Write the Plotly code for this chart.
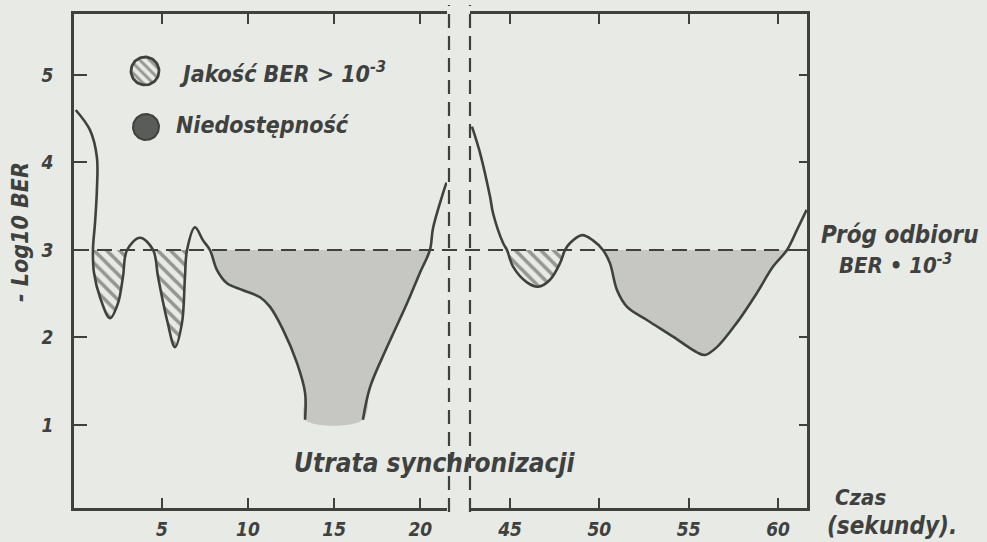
import numpy as np
import plotly.graph_objects as go

# -log10(BER) w funkcji czasu [s] – przed utratą synchronizacji (dwa odcinki krzywej)
t_before_a = [0.0, 0.83, 1.23, 1.23, 1.12, 1.0, 1.06, 1.41, 1.99, 2.45, 2.74, 2.98,
              3.73, 4.49, 4.78, 5.30, 5.76, 6.17, 6.34, 6.46, 6.92, 7.39, 7.79, 8.20,
              8.78, 9.71, 10.70, 11.28, 12.03, 12.84, 13.31, 13.31]
ber_before_a = [4.60, 4.37, 4.06, 3.69, 3.31, 3.0, 2.74, 2.46, 2.22, 2.39, 2.69, 3.0,
                3.14, 3.0, 2.69, 2.20, 1.89, 2.17, 2.69, 3.0, 3.26, 3.11, 3.0, 2.77,
                2.62, 2.54, 2.46, 2.35, 2.09, 1.71, 1.37, 1.06]
t_before_b = [16.67, 17.08, 18.07, 19.23, 19.98, 20.56, 20.74, 21.32, 21.52]
ber_before_b = [1.06, 1.43, 1.89, 2.39, 2.74, 3.0, 3.25, 3.65, 3.77]

# po odzyskaniu synchronizacji
t_after = [42.87, 43.32, 43.88, 44.05, 44.61, 44.83, 45.17, 45.95, 46.57, 47.24,
           47.80, 48.08, 48.36, 49.03, 49.64, 50.20, 50.59, 50.99, 51.55, 52.66,
           54.12, 55.46, 55.91, 56.58, 57.70, 58.82, 59.72, 60.50, 61.06, 61.60]
ber_after = [4.41, 4.11, 3.61, 3.42, 3.08, 3.0, 2.81, 2.63, 2.58, 2.66,
             2.85, 3.0, 3.08, 3.17, 3.11, 3.0, 2.85, 2.54, 2.35, 2.20,
             2.01, 1.83, 1.80, 1.89, 2.17, 2.51, 2.81, 3.0, 3.23, 3.46]

threshold = 3.0            # próg odbioru BER = 1e-3
unavail_min_seconds = 10   # okres poniżej progu >= 10 s -> niedostępność

x_ticks_left = [5, 10, 15, 20]
x_ticks_right = [45, 50, 55, 60]
y_ticks = [1, 2, 3, 4, 5]

INK = "#3f413f"
PAPER = "#e8eae6"
FONT = "DejaVu Sans Condensed, DejaVu Sans"

# geometry of the drawing in pixels
W, H = 987, 542
L, R, T, B = 74, 807, 14, 508
LEFT_END, RIGHT_START = 447, 470


def px(x, y):
    """pixel position -> paper coordinates"""
    return (x - L) / (R - L), (B - y) / (B - T)


def ink_font(size):
    return dict(family=FONT, size=size, color=INK, style="italic", weight="bold")


fig = go.Figure()

HATCH = dict(shape="\\", fgcolor=INK, bgcolor="rgba(0,0,0,0)", size=9, solidity=0.4)


def add_fills(t, v, xa, ya):
    crossings = [i for i, val in enumerate(v) if val == threshold]
    for i0, i1 in zip(crossings[:-1], crossings[1:]):
        seg_v = v[i0:i1 + 1]
        if max(seg_v) > threshold:
            continue
        seg_t = t[i0:i1 + 1]
        long_outage = (seg_t[-1] - seg_t[0]) >= unavail_min_seconds
        fig.add_trace(go.Scatter(x=[seg_t[0], seg_t[-1]], y=[threshold, threshold],
                                 mode="lines", line=dict(width=0), xaxis=xa, yaxis=ya,
                                 showlegend=False, hoverinfo="skip"))
        style = (dict(fillcolor="rgba(118,120,116,0.30)") if long_outage
                 else dict(fillcolor="rgba(0,0,0,0)", fillpattern=HATCH))
        fig.add_trace(go.Scatter(x=seg_t, y=seg_v, mode="lines", fill="tonexty",
                                 line=dict(width=0, shape="spline"), xaxis=xa, yaxis=ya,
                                 showlegend=False, hoverinfo="skip", **style))


add_fills(t_before_a + t_before_b, ber_before_a + ber_before_b, "x", "y")
add_fills(t_after, ber_after, "x2", "y2")

for t, v, xa, ya in [(t_before_a, ber_before_a, "x", "y"),
                     (t_before_b, ber_before_b, "x", "y"),
                     (t_after, ber_after, "x2", "y2")]:
    fig.add_trace(go.Scatter(x=t, y=v, mode="lines", xaxis=xa, yaxis=ya,
                             line=dict(color=INK, width=2.6, shape="spline"),
                             showlegend=False))

# legend glyphs, drawn on a pixel-unit overlay
theta = np.linspace(0, 2 * np.pi, 72)
fig.add_trace(go.Scatter(x=145 + 14 * np.cos(theta), y=71 + 14 * np.sin(theta),
                         mode="lines", fill="toself", xaxis="x3", yaxis="y3",
                         line=dict(color=INK, width=2.8), fillcolor="rgba(0,0,0,0)",
                         fillpattern=dict(HATCH, size=7, solidity=0.42),
                         showlegend=False, hoverinfo="skip"))
fig.add_trace(go.Scatter(x=146 + 13 * np.cos(theta), y=127 + 13 * np.sin(theta),
                         mode="lines", fill="toself", xaxis="x3", yaxis="y3",
                         line=dict(color=INK, width=2), fillcolor="#5a5c59",
                         showlegend=False, hoverinfo="skip"))

axis_common = dict(showgrid=False, zeroline=False, showline=True, linecolor=INK,
                   linewidth=2.6, ticks="inside", tickcolor=INK, tickwidth=2.4,
                   tickfont=ink_font(19), automargin=False)
x_left_dom = (0, (LEFT_END - L) / (R - L))
x_right_dom = ((RIGHT_START - L) / (R - L), 1)
y_range = [0.051, 5.697]

fig.update_layout(
    width=W, height=H,
    margin=dict(l=L, r=W - R, t=T, b=H - B, autoexpand=False),
    paper_bgcolor=PAPER, plot_bgcolor="rgba(0,0,0,0)",
    font=dict(family=FONT, color=INK),
    xaxis=dict(domain=x_left_dom, range=[-0.1, 21.55], tickvals=x_ticks_left,
               ticklen=10, mirror="ticks", anchor="y", ticklabelstandoff=2, **axis_common),
    xaxis2=dict(domain=x_right_dom, range=[42.76, 61.62], tickvals=x_ticks_right,
                ticklen=10, mirror="ticks", anchor="y2", ticklabelstandoff=2, **axis_common),
    yaxis=dict(domain=[0, 1], range=y_range, tickvals=y_ticks, ticklen=13,
               anchor="x", ticklabelstandoff=14, **axis_common),
    yaxis2=dict(domain=[0, 1], range=y_range, tickvals=y_ticks, ticklen=8,
                anchor="x2", side="right", showticklabels=False, **axis_common),
    xaxis3=dict(domain=[0, 1], range=[L, R], visible=False, anchor="y3"),
    yaxis3=dict(domain=[0, 1], range=[B, T], visible=False, anchor="x3"),
)

# threshold line and the synchronisation-loss break
fig.add_shape(type="line", xref="paper", yref="y", x0=0, x1=1, y0=threshold, y1=threshold,
              line=dict(color=INK, width=2.2, dash="15px,8px"))
for xp in (449, RIGHT_START):
    x0, _ = px(xp, 0)
    fig.add_shape(type="line", xref="paper", yref="paper", x0=x0, x1=x0,
                  y0=px(0, 512)[1], y1=px(0, 5)[1],
                  line=dict(color=INK, width=2.2, dash="14px,8px"))

texts = [
    ("- Log10 BER", 20, 232, "center", 23, -90),
    ("Jakość BER > 10<sup>-3</sup>", 177, 72, "left", 23, 0),
    ("Niedostępność", 174, 125, "left", 23, 0),
    ("Utrata synchronizacji", 434, 463, "center", 26, 0),
    ("Próg odbioru", 819, 235, "left", 24, 0),
    ("BER • 10<sup>-3</sup>", 837, 264, "left", 22, 0),
    ("Czas", 833, 497, "left", 22, 0),
    ("(sekundy).", 825, 526, "left", 24, 0),
]
for text, x, y, anchor, size, angle in texts:
    xp, yp = px(x, y)
    fig.add_annotation(text=text, x=xp, y=yp, xref="paper", yref="paper",
                       xanchor=anchor, yanchor="middle", showarrow=False,
                       textangle=angle, font=ink_font(size))

fig.write_html("out.html")
